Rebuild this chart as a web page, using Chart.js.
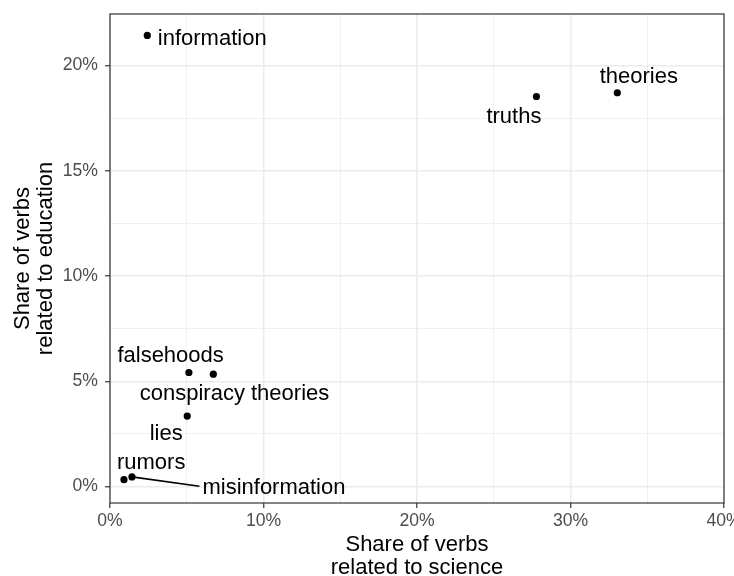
<!DOCTYPE html>
<html><head><meta charset="utf-8">
<script src="https://cdn.jsdelivr.net/npm/chart.js@4"></script>
<style>html,body{margin:0;padding:0;background:#fff}canvas{display:block}</style>
</head><body>
<canvas id="c" width="734" height="576"></canvas>
<script>
const words = ['information','truths','theories','falsehoods','conspiracy theories','lies','rumors','misinformation'];
const scienceShare = [2.43, 27.78, 33.05, 5.14, 6.73, 5.03, 0.91, 1.43];
const educationShare = [21.43, 18.53, 18.71, 5.42, 5.34, 3.35, 0.33, 0.46];
const xTickValues = [0,5,10,15,20,25,30,35,40];
const xTickLabels = ['0%','','10%','','20%','','30%','','40%'];
const yTickValues = [0,2.5,5,7.5,10,12.5,15,17.5,20];
const yTickLabels = ['0%','','5%','','10%','','15%','','20%'];
const xTitle = ['Share of verbs','related to science'];
const yTitle = ['Share of verbs','related to education'];

// repel-style label placement: pixel offsets of label (centre x, baseline) from its point
const labelPlacement = {
  'information':         {dx: 64.9,  dy: 9.5},
  'truths':              {dx: -22.5, dy: 26.3},
  'theories':            {dx: 21.5,  dy: -9.6},
  'falsehoods':          {dx: -18.3, dy: -10},
  'conspiracy theories': {dx: 21.2,  dy: 26},
  'lies':                {dx: -21,   dy: 23.7},
  'rumors':              {dx: 27.2,  dy: -10.7},
  'misinformation':      {dx: 142,   dy: 17.3, segment: true}
};

const FONT = '"Liberation Sans", Arial, Helvetica, sans-serif';
const points = scienceShare.map((x, i) => ({x: x, y: educationShare[i]}));

const labelsPlugin = {
  id: 'repelLabels',
  afterDatasetsDraw(chart) {
    const ctx = chart.ctx;
    const meta = chart.getDatasetMeta(0);
    ctx.save();
    ctx.font = '22px ' + FONT;
    ctx.fillStyle = '#000';
    ctx.textAlign = 'center';
    ctx.textBaseline = 'alphabetic';
    meta.data.forEach((pt, i) => {
      const p = labelPlacement[words[i]];
      const tx = pt.x + p.dx, ty = pt.y + p.dy;
      if (p.segment) {
        const w = ctx.measureText(words[i]).width;
        ctx.beginPath();
        ctx.moveTo(pt.x, pt.y);
        ctx.lineTo(tx - w / 2 - 3, ty - 8);
        ctx.strokeStyle = '#000';
        ctx.lineWidth = 1.6;
        ctx.stroke();
      }
      ctx.fillText(words[i], tx, ty);
    });
    ctx.restore();
  },
  afterDraw(chart) {
    const a = chart.chartArea, ctx = chart.ctx;
    ctx.save();
    ctx.strokeStyle = '#333333';
    ctx.lineWidth = 1.2;
    ctx.strokeRect(a.left, a.top, a.right - a.left, a.bottom - a.top);
    ctx.restore();
  }
};

new Chart(document.getElementById('c'), {
  type: 'scatter',
  data: {
    datasets: [{
      data: points,
      pointRadius: 3.6,
      pointBackgroundColor: '#000',
      pointBorderWidth: 0,
      pointBorderColor: '#000'
    }]
  },
  options: {
    responsive: false,
    animation: false,
    devicePixelRatio: 1,
    layout: {padding: {top: 14, right: 10, left: 0, bottom: 0}},
    plugins: {legend: {display: false}, tooltip: {enabled: false}},
    scales: {
      x: {
        type: 'linear', min: 0, max: 40,
        afterBuildTicks: s => { s.ticks = xTickValues.map(v => ({value: v})); },
        afterFit: s => { s.height = 73; s.paddingLeft = 0; s.paddingRight = 0; },
        border: {display: false},
        grid: {
          color: '#EBEBEB',
          lineWidth: c => (xTickLabels[c.index] ? 1.5 : 0.75),
          tickColor: c => (xTickLabels[c.index] ? '#333333' : 'rgba(0,0,0,0)'),
          tickLength: 5, tickWidth: 1.2
        },
        ticks: {
          autoSkip: false, maxRotation: 0, padding: 3,
          color: '#4D4D4D', font: {family: FONT, size: 17.6},
          callback: (v, i) => xTickLabels[i]
        },
        title: {
          display: true, text: xTitle, color: '#000',
          font: {family: FONT, size: 22, lineHeight: 1.02},
          padding: {top: 0, bottom: -3}
        }
      },
      y: {
        type: 'linear', min: -0.78, max: 22.45,
        afterBuildTicks: s => { s.ticks = yTickValues.map(v => ({value: v})); },
        afterFit: s => { s.width = 110; s.paddingTop = 0; s.paddingBottom = 0; },
        border: {display: false},
        grid: {
          color: '#EBEBEB',
          lineWidth: c => (yTickLabels[c.index] ? 1.5 : 0.75),
          tickColor: c => (yTickLabels[c.index] ? '#333333' : 'rgba(0,0,0,0)'),
          tickLength: 5, tickWidth: 1.2
        },
        ticks: {
          autoSkip: false, padding: 7,
          color: '#4D4D4D', font: {family: FONT, size: 17.6},
          callback: (v, i) => yTickLabels[i]
        },
        title: {
          display: true, text: yTitle, color: '#000',
          font: {family: FONT, size: 22, lineHeight: 1.02},
          padding: {top: 12, bottom: 0}
        }
      }
    }
  },
  plugins: [labelsPlugin]
});
</script>
</body></html>
